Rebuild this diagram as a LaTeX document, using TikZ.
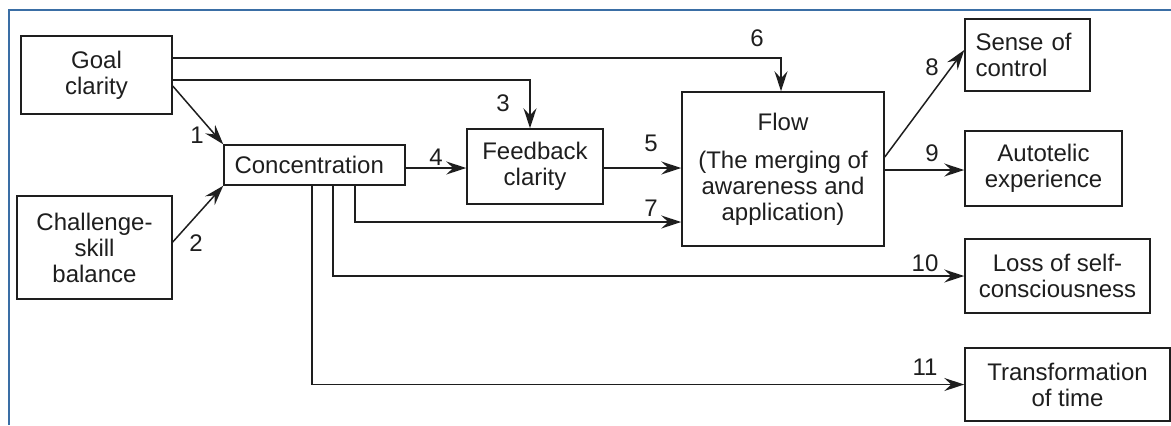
\documentclass[tikz,border=0pt]{standalone}
\usepackage{fontspec}
\setmainfont{Liberation Sans}
\usetikzlibrary{arrows.meta}
\definecolor{frameblue}{RGB}{58,110,165}
\definecolor{ink}{RGB}{30,30,30}
\begin{document}
\begin{tikzpicture}[x=0.5pt,y=-0.5pt,
  every node/.style={font=\fontsize{12}{13}\selectfont, text=ink},
  box/.style={draw=ink, line width=0.75pt, align=center, inner sep=0pt},
  arr/.style={draw=ink, line width=0.75pt, -{Stealth[length=10pt,width=6.5pt,inset=3.5pt]}},
  ln/.style={inner sep=0pt}]
\useasboundingbox (0,0) rectangle (1171,425);
\draw[frameblue, line width=1pt] (9,425) -- (9,10) -- (1171,10);

\node[box, minimum width=75.5pt, minimum height=39pt] (goal) at (96.5,75) {Goal\\clarity};
\node[box, minimum width=77.5pt, minimum height=51.5pt] (chal) at (94.5,247.5) {Challenge-\\skill\\balance};
\node[box, minimum width=90.5pt, minimum height=20pt, text width=80pt, align=left] (conc) at (314.5,165) {Concentration};
\node[box, minimum width=68pt, minimum height=37.5pt] (feed) at (535,166.5) {Feedback\\clarity};
\node[box, minimum width=101pt, minimum height=77pt] (flow) at (783,169) {};
\node (flowt) at (783,122) {Flow};
\node[align=center] (flowb) at (783,188) {(The merging of\\awareness and\\application)};
\node[box, minimum width=62.5pt, minimum height=36pt, text width=52pt, align=left] (sense) at (1027.5,55) {Sense of\\control};
\node[box, minimum width=78.5pt, minimum height=37.5pt] (auto) at (1043.5,168.5) {Autotelic\\experience};
\node[box, minimum width=92.5pt, minimum height=37pt] (loss) at (1057.5,276) {Loss of self-\\consciousness};
\node[box, minimum width=102.5pt, minimum height=36.5pt] (trans) at (1067.5,384.5) {Transformation\\of time};

% connectors
\draw[arr] (goal.east |- 0,58) -| (flow.north -| 781,0);
\draw[arr] (goal.east |- 0,80) -| (feed.north -| 530,0);
\draw[arr] (goal.east |- 0,86) -- (conc.north west);
\draw[arr] (chal.east |- 0,242) -- (conc.south west);
\draw[arr] (conc.east |- 0,168) -- (feed.west |- 0,168);
\draw[arr] (feed.east |- 0,168) -- (flow.west |- 0,168);
\draw[arr] (conc.south -| 355,0) |- (flow.west |- 0,222);
\draw[arr] (conc.south -| 333,0) |- (loss.west);
\draw[arr] (conc.south -| 312,0) |- (trans.west);
\draw[arr] (flow.east |- 0,157) -- (sense.west |- 0,50);
\draw[arr] (flow.east |- 0,170) -- (auto.west |- 0,170);

% labels
\node[ln] (l1) at (197,135) {1};
\node[ln] (l2) at (196,243) {2};
\node[ln] (l3) at (503,103) {3};
\node[ln] (l4) at (436,157) {4};
\node[ln] (l5) at (651,143) {5};
\node[ln] (l6) at (757,38) {6};
\node[ln] (l7) at (651,208) {7};
\node[ln] (l8) at (932,67) {8};
\node[ln] (l9) at (932,153) {9};
\node[ln] (l10) at (925,263) {10};
\node[ln] (l11) at (925,367) {11};
\end{tikzpicture}
\end{document}
